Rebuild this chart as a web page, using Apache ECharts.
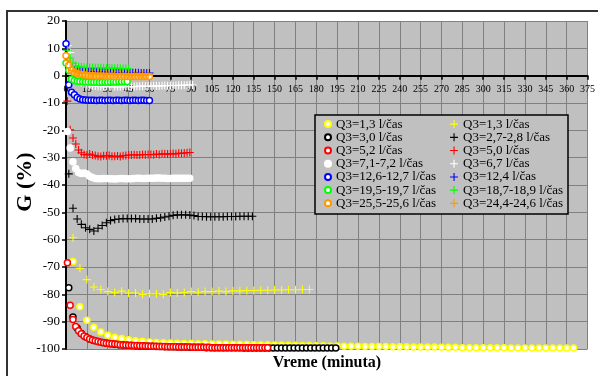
<!DOCTYPE html>
<html><head><meta charset="utf-8">
<script src="https://cdn.jsdelivr.net/npm/echarts@6/dist/echarts.min.js"></script>
<style>html,body{margin:0;padding:0;background:#fff}#c{width:598px;height:376px}</style>
</head><body><div id="c"></div>
<script>
// ---- legend labels ----
const circleLabels = ['Q3=1,3 l/čas','Q3=3,0 l/čas','Q3=5,2 l/čas','Q3=7,1-7,2 l/čas','Q3=12,6-12,7 l/čas','Q3=19,5-19,7 l/čas','Q3=25,5-25,6 l/čas'];
const plusLabels = ['Q3=1,3 l/čas','Q3=2,7-2,8 l/čas','Q3=5,0 l/čas','Q3=6,7 l/čas','Q3=12,4 l/čas','Q3=18,7-18,9 l/čas','Q3=24,4-24,6 l/čas'];
const seriesColors = ['#ffff00','#000000','#ff0000','#ffffff','#0000ff','#00ff00','#ff9900'];

// ---- sampling times (start minute, step in minutes) ----
const circleTimes = [[5,5],[2,3],[1,2],[1,2],[0,2],[0,2],[0,2]];
const plusTimes   = [[5,5],[2,3],[1,2],[1,2],[0,2],[1,2],[1,2]];

// ---- values G (%) ----
const yellowCircleVals = [-68,-84.5,-89.5,-92,-93.8,-95,-95.7,-96.2,-96.6,-97,
-97.2,-97.4,-97.6,-97.7,-97.8,-97.9,-98,-98,-98.1,-98.1,
-98.2,-98.2,-98.2,-98.3,-98.3,-98.3,-98.4,-98.4,-98.4,-98.5,
-98.5,-98.6,-98.6,-98.7,-98.7,-98.8,-98.8,-98.9,-98.9,-99,
-99,-99,-99.1,-99.1,-99.1,-99.1,-99.2,-99.2,-99.2,-99.3,
-99.3,-99.3,-99.3,-99.4,-99.4,-99.4,-99.5,-99.5,-99.5,-99.5,
-99.5,-99.5,-99.5,-99.6,-99.6,-99.6,-99.6,-99.6,-99.6,-99.6,
-99.6,-99.6,-99.6];
const blackCircleVals = [-77.6,-88.3,-92.3,-94.3,-95.5,-96.3,-96.9,-97.3,-97.6,-97.9,
-98.1,-98.3,-98.4,-98.5,-98.6,-98.7,-98.8,-98.9,-98.9,-99,
-99,-99.1,-99.1,-99.2,-99.2,-99.2,-99.3,-99.3,-99.3,-99.4,
-99.4,-99.4,-99.4,-99.5,-99.5,-99.5,-99.5,-99.5,-99.5,-99.5,
-99.5,-99.5,-99.6,-99.6,-99.6,-99.6,-99.6,-99.6,-99.6,-99.6,
-99.6,-99.6,-99.6,-99.6,-99.6,-99.6,-99.6,-99.6,-99.6,-99.6,
-99.6,-99.6,-99.6,-99.6,-99.6];
const redCircleVals = [-68.4,-84,-89.2,-91.8,-93.3,-94.4,-95.2,-95.8,-96.3,-96.7,
-97,-97.3,-97.5,-97.7,-97.9,-98,-98.1,-98.2,-98.3,-98.4,
-98.5,-98.5,-98.6,-98.6,-98.7,-98.7,-98.8,-98.8,-98.9,-98.9,
-99,-99,-99,-99.1,-99.1,-99.1,-99.2,-99.2,-99.2,-99.2,
-99.3,-99.3,-99.3,-99.3,-99.3,-99.4,-99.4,-99.4,-99.4,-99.4,
-99.4,-99.4,-99.5,-99.5,-99.5,-99.5,-99.5,-99.5,-99.5,-99.5,
-99.5,-99.5,-99.5,-99.5,-99.5,-99.5,-99.5,-99.5,-99.5,-99.5,
-99.5,-99.5,-99.5];
const whiteCircleVals = [-20.4,-26.5,-31.5,-34,-35.4,-35.8,-35.6,-36,-36.8,-37.3,
-37.6,-37.7,-37.7,-37.6,-37.6,-37.7,-37.7,-37.8,-37.7,-37.6,
-37.6,-37.7,-37.7,-37.7,-37.6,-37.5,-37.5,-37.6,-37.6,-37.5,
-37.5,-37.5,-37.4,-37.4,-37.5,-37.5,-37.6,-37.6,-37.5,-37.5,
-37.5,-37.5,-37.5,-37.5,-37.5];
const blueCircleVals = [11.7,-3.3,-6.1,-7,-8,-8.5,-8.8,-8.9,-9,-9,
-9,-9.1,-9,-9,-9.1,-9,-9,-9.1,-9,-9,
-9.1,-9,-9,-9.1,-9,-9,-9.1,-9,-9,-9.1,
-9.1];
const greenCircleVals = [4.6,2,-1.2,-1.8,-2,-2.1,-2.2,-2.3,-2.3,-2.4,
-2.4,-2.4,-2.5,-2.4,-2.4,-2.4,-2.3,-2.3,-2.3,-2.2,
-2.2,-2.1,-2.1];
const orangeCircleVals = [7.3,3.8,2,1.2,0.8,0.5,0.3,0.2,0.1,0,
0,-0.1,-0.1,-0.1,-0.2,-0.2,-0.2,-0.2,-0.3,-0.3,
-0.3,-0.3,-0.3,-0.3,-0.3,-0.3,-0.3,-0.3,-0.3,-0.3,
-0.3];

const yellowPlusVals = [-59.3,-70.5,-74.6,-77.3,-78.2,-79,-79.3,-78.8,-79.5,-79.5,
-80,-79.8,-79.8,-80,-79.3,-79.5,-79.3,-79,-79.2,-79,
-79,-78.8,-79,-78.7,-78.7,-78.6,-78.6,-78.5,-78.5,-78.4,
-78.4,-78.3,-78.3,-78.2,-78.2];
const blackPlusVals = [-35.9,-48.5,-52.4,-54.4,-55.6,-56.2,-56.8,-55.8,-54.8,-53.8,
-53,-52.6,-52.4,-52.3,-52.3,-52.3,-52.3,-52.4,-52.4,-52.4,
-52.4,-52.2,-52,-51.7,-51.4,-51.1,-50.9,-50.9,-50.9,-51,
-51.2,-51.5,-51.5,-51.6,-51.6,-51.6,-51.6,-51.6,-51.5,-51.5,
-51.5,-51.4,-51.4,-51.4,-51.4];
const redPlusVals = [-9.3,-19.8,-22.8,-25,-27.2,-28.2,-28.8,-29,-28.7,-29,
-29.2,-29.5,-29.6,-29.3,-29.3,-29.2,-29.5,-29.5,-29.4,-29.6,
-29.3,-29.2,-29,-29,-28.9,-29,-29,-28.8,-28.9,-28.8,
-28.8,-28.9,-28.7,-28.8,-28.6,-28.6,-28.7,-28.6,-28.5,-28.6,
-28.4,-28.4,-28.3,-28.2,-28.1];
const whitePlusVals = [11,8.5,3,0,-1.5,-2.5,-3,-3.3,-3.5,-3.7,
-3.8,-3.9,-4,-4,-3.9,-4,-4.1,-4,-4,-4.1,
-4,-4,-3.9,-4,-4,-3.9,-3.9,-3.8,-3.9,-3.8,
-3.8,-3.7,-3.7,-3.8,-3.7,-3.6,-3.7,-3.6,-3.6,-3.6,
-3.5,-3.5,-3.5,-3.4,-3.4,-3.4];
const bluePlusVals = [9.5,4,2.5,2,1.8,1.6,1.5,1.5,1.4,1.4,
1.4,1.3,1.3,1.3,1.3,1.2,1.2,1.2,1.2,1.2,
1.2,1.2,1.1,1.1,1.1,1.1,1.1,1,1,1,
1];
const greenPlusVals = [9.3,6.5,4.6,3.6,3.3,3.2,3.1,3,3,3,
3,2.9,2.9,2.9,2.8,2.8,2.8,2.7,2.7,2.7,
2.6,2.6,2.5];
const orangePlusVals = [5.5,3,2,1.5,1.2,1,0.9,0.8,0.8,0.7,
0.7,0.7,0.6,0.6,0.6,0.6,0.5,0.5,0.5,0.5,
0.5,0.4,0.4,0.4,0.4,0.4,0.3,0.3,0.3,0.3];

const circleVals = [yellowCircleVals,blackCircleVals,redCircleVals,whiteCircleVals,blueCircleVals,greenCircleVals,orangeCircleVals];
const plusVals = [yellowPlusVals,blackPlusVals,redPlusVals,whitePlusVals,bluePlusVals,greenPlusVals,orangePlusVals];

const PLUS = 'path://M3.5,0H4.6V3.5H8V4.6H4.6V8H3.5V4.6H0V3.5H3.5Z';
const serif = 'Liberation Serif';

function pairs(vals, tm){ return vals.map((v,i)=>[tm[0]+i*tm[1], v]); }

const series = [];
const labelMap = {};
for (let k=0;k<7;k++){
  const cn = 'c'+k, pn = 'p'+k;
  labelMap[cn] = circleLabels[k]; labelMap[pn] = plusLabels[k];
  series.push({name:cn, type:'scatter', data:pairs(circleVals[k], circleTimes[k]), symbol:'circle', symbolSize:6,
    itemStyle:{color:'#ffffff', borderColor:seriesColors[k], borderWidth:1.5, opacity:1},
    emphasis:{disabled:true}, silent:true});
  series.push({name:pn, type:'scatter', data:pairs(plusVals[k], plusTimes[k]), symbol:PLUS, symbolSize:8,
    itemStyle:{color:seriesColors[k], opacity:1}, emphasis:{disabled:true}, silent:true});
}

// grid geometry
const gridTop = 21, gridBottom = 27, H = 376;
const yMin = -100, yMax = 20;
const plotH = H - gridTop - gridBottom;
const zeroShift = plotH * (0 - yMin) / (yMax - yMin); // distance from bottom edge to the zero line

const chart = echarts.init(document.getElementById('c'), null, {renderer:'canvas'});
const legendBase = {orient:'vertical', itemGap:0, padding:0, selectedMode:false, z:20,
  top:117.5, textStyle:{fontFamily:serif, fontSize:13, color:'#000', lineHeight:13.2},
  formatter: n => labelMap[n]};
chart.setOption({
  animation:false,
  backgroundColor:'#ffffff',
  grid:{left:66, right:9, top:gridTop, bottom:gridBottom, show:true, backgroundColor:'#c0c0c0', borderWidth:0},
  xAxis:{type:'value', min:0, max:375, interval:15, offset:-zeroShift,
    axisLine:{onZero:false, lineStyle:{color:'#000', width:2}},
    axisTick:{show:true, length:4, lineStyle:{color:'#000', width:1.5}},
    axisLabel:{fontFamily:serif, fontSize:10, color:'#000', margin:9, showMaxLabel:true, showMinLabel:true},
    splitLine:{show:true, lineStyle:{color:'#808080', width:1}}},
  yAxis:{type:'value', min:yMin, max:yMax, interval:10,
    axisLine:{show:true, onZero:false, lineStyle:{color:'#000', width:2}},
    axisTick:{show:true, length:4, lineStyle:{color:'#000', width:1.5}},
    axisLabel:{fontFamily:serif, fontSize:13, color:'#000', margin:6},
    splitLine:{show:true, lineStyle:{color:'#808080', width:1}}},
  legend:[
    Object.assign({}, legendBase, {left:324, itemWidth:6, itemHeight:6, data:series.filter(s=>s.name[0]==='c').map(s=>s.name)}),
    Object.assign({}, legendBase, {left:450, itemWidth:8, itemHeight:8, data:series.filter(s=>s.name[0]==='p').map(s=>s.name)})
  ],
  graphic:[
    {type:'rect', z:100, silent:true, shape:{x:7, y:11, width:700, height:500}, style:{fill:'none', stroke:'#333', lineWidth:2}},
    {type:'rect', z:10, silent:true, shape:{x:315, y:115, width:253, height:99}, style:{fill:'#c0c0c0', stroke:'#000', lineWidth:1.5}},
    {type:'text', z:30, silent:true, x:25, y:182, rotation:Math.PI/2,
      style:{text:'G (%)', font:'bold 22px "Liberation Serif"', fill:'#000', textAlign:'center', textVerticalAlign:'middle'}},
    {type:'text', z:30, silent:true, x:327, y:363,
      style:{text:'Vreme (minuta)', font:'bold 16px "Liberation Serif"', fill:'#000', textAlign:'center', textVerticalAlign:'middle'}}
  ],
  series: series
});
</script></body></html>
